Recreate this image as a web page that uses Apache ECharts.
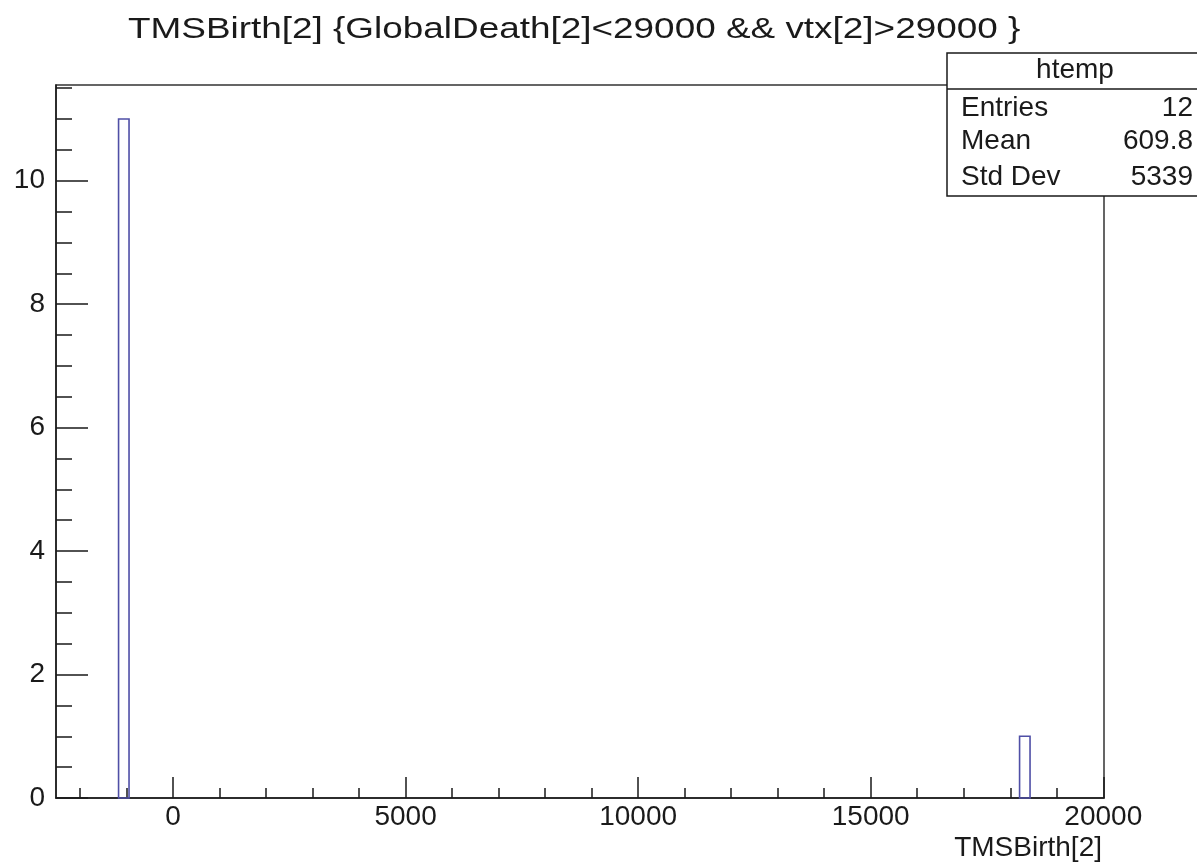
<!DOCTYPE html>
<html>
<head>
<meta charset="utf-8">
<title>TMSBirth[2]</title>
<script src="https://cdn.jsdelivr.net/npm/echarts@6/dist/echarts.min.js"></script>
<style>
  html, body { margin: 0; padding: 0; background: #fff; }
  #chart { width: 1197px; height: 866px; }
</style>
</head>
<body>
<div id="chart"></div>
<script>
// histogram bins (only non-empty ones)
const binLow = [-1170, 18200];
const binHigh = [-945, 18425];
const binCount = [11, 1];

// axis ticks
const xMajorTicks = [0, 5000, 10000, 15000, 20000];
const xMinorTicks = [-2000, -1000, 1000, 2000, 3000, 4000, 6000, 7000, 8000, 9000,
  11000, 12000, 13000, 14000, 16000, 17000, 18000, 19000];
const yMajorTicks = [0, 2, 4, 6, 8, 10];
const yMinorTicks = [0.5, 1, 1.5, 2.5, 3, 3.5, 4.5, 5, 5.5, 6.5, 7, 7.5, 8.5, 9, 9.5, 10.5, 11, 11.5];

// stats box
const statNames = ['Entries', 'Mean', 'Std Dev'];
const statValues = ['12', '609.8', '5339'];

const X_MIN = -2515, X_MAX = 20015, Y_MAX = 11.55;
const FONT = 'Liberation Sans, Arial, sans-serif';
const INK = '#1a1a1a';

const chart = echarts.init(document.getElementById('chart'));

const histData = binLow.map((lo, i) => [lo, binHigh[i], binCount[i]]);

function axisX(ticks, len, labels) {
  return {
    type: 'value', min: X_MIN, max: X_MAX, position: 'bottom',
    axisLine: { show: labels, onZero: false, lineStyle: { color: INK, width: 1.5 } },
    axisTick: { show: true, inside: true, length: len, customValues: ticks, lineStyle: { color: INK, width: 1.5 } },
    axisLabel: { show: labels, customValues: ticks, margin: 5, color: INK, fontSize: 28, fontFamily: FONT,
      formatter: v => String(v) },
    splitLine: { show: false }
  };
}
function axisY(ticks, len, labels) {
  return {
    type: 'value', min: 0, max: Y_MAX, position: 'left',
    axisLine: { show: labels, onZero: false, lineStyle: { color: INK, width: 1.5 } },
    axisTick: { show: true, inside: true, length: len, customValues: ticks, lineStyle: { color: INK, width: 1.5 } },
    axisLabel: { show: labels, customValues: ticks, margin: 11, color: INK, fontSize: 28, fontFamily: FONT,
      formatter: v => String(v) },
    splitLine: { show: false }
  };
}

const statTexts = [];
statNames.forEach((n, i) => {
  const y = [108, 141, 177][i];
  statTexts.push({ type: 'text', z: 101, style: { text: n, x: 961, y: y, fill: INK, font: '28px ' + FONT, verticalAlign: 'middle' } });
  statTexts.push({ type: 'text', z: 101, style: { text: statValues[i], x: 1193, y: y, fill: INK, font: '28px ' + FONT, align: 'right', verticalAlign: 'middle' } });
});

const option = {
  animation: false,
  backgroundColor: '#fff',
  grid: { left: 56, right: 93, top: 85, bottom: 68, show: true, borderColor: '#333', borderWidth: 1.5, backgroundColor: 'transparent' },
  xAxis: [axisX(xMajorTicks, 21, true), axisX(xMinorTicks, 10, false)],
  yAxis: [axisY(yMajorTicks, 32, true), axisY(yMinorTicks, 16, false)],
  series: [{
    type: 'custom',
    xAxisIndex: 0, yAxisIndex: 0,
    data: histData,
    renderItem: function (params, api) {
      const p0 = api.coord([api.value(0), api.value(2)]);
      const p1 = api.coord([api.value(1), 0]);
      return {
        type: 'rect',
        shape: { x: p0[0], y: p0[1], width: p1[0] - p0[0], height: p1[1] - p0[1] },
        style: { fill: 'none', stroke: '#4f4fa6', lineWidth: 1.6 }
      };
    }
  }],
  graphic: [
    // title (the original is drawn a bit wider than tall)
    { type: 'text', x: 128, y: 30, scaleX: 1.23,
      style: { text: 'TMSBirth[2] {GlobalDeath[2]<29000 && vtx[2]>29000 }', fill: INK, font: '30px ' + FONT, verticalAlign: 'middle' } },
    // x axis title
    { type: 'text', style: { text: 'TMSBirth[2]', x: 1102, y: 848, fill: INK, font: '28px ' + FONT, align: 'right', verticalAlign: 'middle' } },
    // stats box
    { type: 'rect', shape: { x: 947, y: 53, width: 260, height: 143 }, style: { fill: '#fff', stroke: INK, lineWidth: 1.5 }, z: 100 },
    { type: 'line', shape: { x1: 947, y1: 89, x2: 1200, y2: 89 }, style: { stroke: INK, lineWidth: 1.5 }, z: 101 },
    { type: 'text', z: 101, style: { text: 'htemp', x: 1075, y: 70, fill: INK, font: '28px ' + FONT, align: 'center', verticalAlign: 'middle' } }
  ].concat(statTexts)
};

chart.setOption(option);
</script>
</body>
</html>
